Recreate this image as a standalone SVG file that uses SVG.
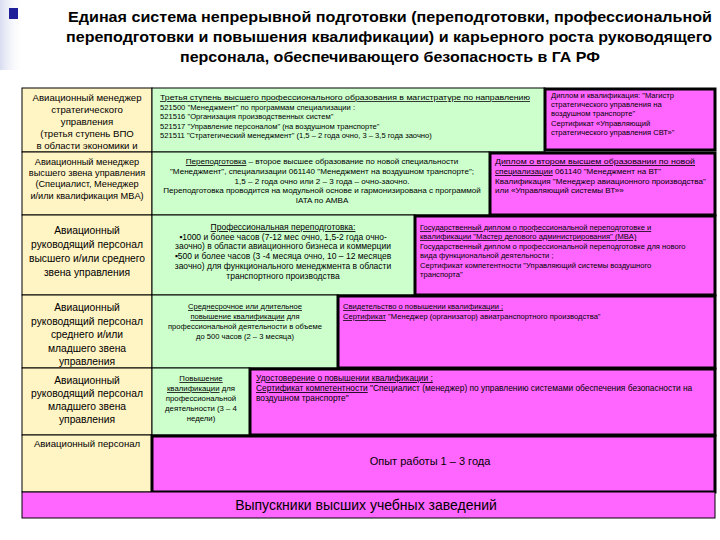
<svg xmlns="http://www.w3.org/2000/svg" width="720" height="540" viewBox="0 0 720 540">
<defs>
<linearGradient id="side" x1="0" y1="0" x2="1" y2="0">
<stop offset="0" stop-color="#d8dcf0"/>
<stop offset="1" stop-color="#ffffff" stop-opacity="0"/>
</linearGradient>
<style>
.t{font-family:"Liberation Sans",Arial,sans-serif;font-weight:bold;font-size:15.5px;fill:#000}
.y{fill:#FFF4C4;stroke:#000;stroke-width:1}
.g{fill:#CCFFCC;stroke:#000;stroke-width:1}
.p{fill:#FF66FF;stroke:#000;stroke-width:3}
.pt{fill:#FF66FF;stroke:#000;stroke-width:1}
.l{font-family:"Liberation Sans",Arial,sans-serif;fill:#000;text-anchor:middle}
.s{font-family:"Liberation Sans",Arial,sans-serif;fill:#000}
.c{text-anchor:middle}
.u{text-decoration:underline}
.b{font-family:"Liberation Sans",Arial,sans-serif;fill:#000;text-anchor:middle}
</style>
</defs>
<rect x="0" y="0" width="720" height="540" fill="#ffffff"/>
<rect x="0" y="0" width="24" height="70" fill="url(#side)"/>
<rect x="9" y="8" width="9" height="11" fill="#1f1f99"/>
<g id="title">
<text class="t" x="390" y="22" text-anchor="middle" textLength="644" lengthAdjust="spacingAndGlyphs">Единая система непрерывной подготовки (переподготовки, профессиональной</text>
<text class="t" x="389" y="42" text-anchor="middle" textLength="646" lengthAdjust="spacingAndGlyphs">переподготовки и повышения квалификации) и карьерного роста руководящего</text>
<text class="t" x="390" y="62" text-anchor="middle" textLength="420" lengthAdjust="spacingAndGlyphs">персонала, обеспечивающего безопасность в ГА РФ</text>
</g>
<g id="connectors"></g>
<g id="left-column">
<g id="l1"><rect class="y" x="22" y="88" width="130" height="64"/>
<text class="l" style="font-size:9.6px"><tspan x="87" y="101">Авиационный менеджер</tspan><tspan x="87" y="113">стратегического</tspan><tspan x="87" y="125">управления</tspan><tspan x="87" y="137">(третья ступень ВПО</tspan><tspan x="87" y="149">в области экономики и</tspan></text></g>
<g id="l2"><rect class="y" x="22" y="152" width="130" height="63"/>
<text class="l" style="font-size:9.2px"><tspan x="87" y="165">Авиационный менеджер</tspan><tspan x="87" y="176">высшего звена управления</tspan><tspan x="87" y="187">(Специалист, Менеджер</tspan><tspan x="87" y="199">и/или квалификация MBA)</tspan></text></g>
<g id="l3"><rect class="y" x="22" y="215" width="130" height="80"/>
<text class="l" style="font-size:10.3px"><tspan x="87" y="234">Авиационный</tspan><tspan x="87" y="248">руководящий персонал</tspan><tspan x="87" y="262">высшего и/или среднего</tspan><tspan x="87" y="276">звена управления</tspan></text></g>
<g id="l4"><rect class="y" x="22" y="295" width="130" height="73"/>
<text class="l" style="font-size:10.3px"><tspan x="87" y="311">Авиационный</tspan><tspan x="87" y="325">руководящий персонал</tspan><tspan x="87" y="338">среднего и/или</tspan><tspan x="87" y="352">младшего звена</tspan><tspan x="87" y="365">управления</tspan></text></g>
<g id="l5"><rect class="y" x="22" y="368" width="130" height="67"/>
<text class="l" style="font-size:10.3px"><tspan x="87" y="384">Авиационный</tspan><tspan x="87" y="397">руководящий персонал</tspan><tspan x="87" y="410">младшего звена</tspan><tspan x="87" y="423">управления</tspan></text></g>
<g id="l6"><rect class="y" x="22" y="435" width="130" height="57"/>
<text class="l" style="font-size:9.6px"><tspan x="87" y="447">Авиационный персонал</tspan></text></g>
</g>
<g id="row1">
<rect class="g" x="152" y="88" width="393" height="64"/>
<text class="s" style="font-size:7.6px"><tspan x="160" y="100" class="u" textLength="370" lengthAdjust="spacingAndGlyphs">Третья ступень высшего профессионального образования в магистратуре по направлению</tspan><tspan x="160" y="110">521500 "Менеджмент" по программам специализации :</tspan><tspan x="160" y="119">521516 "Организация производственных систем"</tspan><tspan x="160" y="129">521517 "Управление персоналом" (на воздушном транспорте"</tspan><tspan x="160" y="138">521511 "Стратегический менеджмент" (1,5 – 2 года очно, 3 – 3,5 года заочно)</tspan></text>
<rect class="p" x="545" y="89" width="170" height="61"/>
<text class="s" style="font-size:7.6px"><tspan x="551" y="98">Диплом и квалификация: "Магистр</tspan><tspan x="551" y="107">стратегического управления на</tspan><tspan x="551" y="116">воздушном транспорте"</tspan><tspan x="551" y="126">Сертификат «Управляющий</tspan><tspan x="551" y="135">стратегического управления СВТ»"</tspan></text>
</g>
<g id="row2">
<rect class="g" x="152" y="152" width="338" height="63"/>
<text class="s c" style="font-size:8.1px"><tspan x="322" y="164"><tspan class="u">Переподготовка</tspan> – второе высшее образование по новой специальности</tspan><tspan x="322" y="174">"Менеджмент", специализации 061140 "Менеджмент на воздушном транспорте";</tspan><tspan x="322" y="184">1,5 – 2 года очно или 2 – 3 года – очно-заочно.</tspan><tspan x="322" y="193">Переподготовка проводится на модульной основе и гармонизирована с программой</tspan><tspan x="322" y="203">IATA по AMBA</tspan></text>
<rect class="p" x="490" y="153" width="225" height="62"/>
<text class="s" style="font-size:8.1px"><tspan x="495" y="164" class="u" textLength="200" lengthAdjust="spacingAndGlyphs">Диплом о втором высшем образовании по новой</tspan><tspan x="495" y="174"><tspan class="u">специализации</tspan> 061140 "Менеджмент на ВТ"</tspan><tspan x="495" y="184">Квалификация "Менеджер авиационного производства"</tspan><tspan x="495" y="193">или «Управляющий системы ВТ»»</tspan></text>
</g>
<g id="row3">
<rect class="g" x="152" y="215" width="263" height="80"/>
<text class="s c" style="font-size:8.5px"><tspan x="283" y="230" class="u">Профессиональная переподготовка:</tspan><tspan x="283" y="240">▪1000 и более часов (7-12 мес очно, 1,5-2 года очно-</tspan><tspan x="283" y="249">заочно) в области авиационного бизнеса и коммерции</tspan><tspan x="283" y="259">▪500 и более часов (3 -4 месяца очно, 10 – 12 месяцев</tspan><tspan x="283" y="269">заочно) для функционального менеджмента в области</tspan><tspan x="283" y="279">транспортного производства</tspan></text>
<rect class="p" x="415" y="216" width="300" height="79"/>
<text class="s" style="font-size:7.6px"><tspan x="420" y="230" class="u">Государственный диплом о профессиональной переподготовке и</tspan><tspan x="420" y="239" class="u">квалификации "Мастер делового администрирования" (MBA)</tspan><tspan x="420" y="249">Государственный диплом о профессиональной переподготовке для нового</tspan><tspan x="420" y="258">вида функциональной деятельности ;</tspan><tspan x="420" y="268">Сертификат компетентности "Управляющий системы воздушного</tspan><tspan x="420" y="277">транспорта"</tspan></text>
</g>
<g id="row4">
<rect class="g" x="152" y="295" width="186" height="73"/>
<text class="s c" style="font-size:7.6px"><tspan x="245" y="309" class="u">Среднесрочное или длительное</tspan><tspan x="245" y="319"><tspan class="u">повышение квалификации</tspan> для</tspan><tspan x="245" y="329">профессиональной деятельности в объеме</tspan><tspan x="245" y="339">до 500 часов (2 – 3 месяца)</tspan></text>
<rect class="p" x="338" y="296" width="377" height="72"/>
<text class="s" style="font-size:7.6px"><tspan x="343" y="309" class="u">Свидетельство о повышении квалификации ;</tspan><tspan x="343" y="319"><tspan class="u">Сертификат</tspan> "Менеджер (организатор) авиатранспортного производства"</tspan></text>
</g>
<g id="row5">
<rect class="g" x="152" y="368" width="98" height="67"/>
<text class="s c" style="font-size:7.8px"><tspan x="201" y="381" class="u">Повышение</tspan><tspan x="201" y="391"><tspan class="u">квалификации</tspan> для</tspan><tspan x="201" y="401">профессиональной</tspan><tspan x="201" y="411">деятельности (3 – 4</tspan><tspan x="201" y="421">недели)</tspan></text>
<rect class="p" x="250" y="369" width="465" height="66"/>
<text class="s" style="font-size:8.4px"><tspan x="256" y="381" class="u">Удостоверение о повышении квалификации ;</tspan><tspan x="256" y="391"><tspan class="u">Сертификат компетентности</tspan> "Специалист (менеджер) по управлению системами обеспечения безопасности на</tspan><tspan x="256" y="401">воздушном транспорте"</tspan></text>
</g>
<g id="row6">
<rect class="p" x="152" y="436" width="563" height="56"/>
<text class="b" x="430" y="465" style="font-size:11px">Опыт работы 1 – 3 года</text>
</g>
<g id="row7">
<rect class="pt" x="22" y="492" width="693" height="26"/>
<text class="b" x="366" y="510" style="font-size:14px">Выпускники высших учебных заведений</text>
</g>
</svg>
